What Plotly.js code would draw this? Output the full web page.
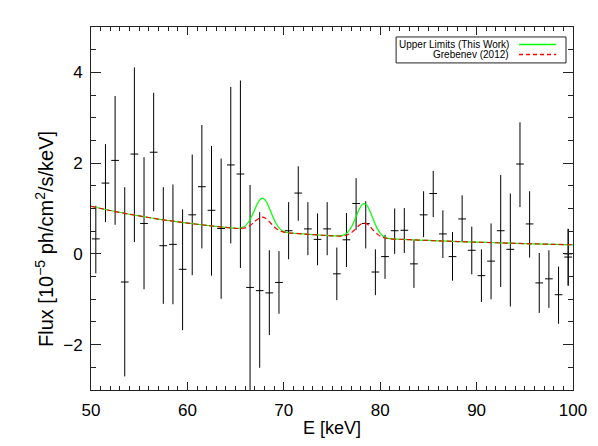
<!DOCTYPE html>
<html>
<head>
<meta charset="utf-8">
<script src="https://cdn.plot.ly/plotly-3.0.1.min.js"></script>
<style>html,body{margin:0;padding:0;background:#fff;}#chart{width:598px;height:446px;}</style>
</head>
<body>
<div id="chart"></div>
<script>
// Measured spectrum points (bin centres in keV), flux in 1e-5 ph/cm2/s/keV
const energy = [50.5,51.5,52.5,53.5,54.5,55.5,56.5,57.5,58.5,59.5,
                60.5,61.5,62.5,63.5,64.5,65.5,66.5,67.5,68.5,69.5,
                70.5,71.5,72.5,73.5,74.5,75.5,76.5,77.5,78.5,79.5,
                80.5,81.5,82.5,83.5,84.5,85.5,86.5,87.5,88.5,89.5,
                90.5,91.5,92.5,93.5,94.5,95.5,96.5,97.5,98.5,99.5,99.5];
const flux = [0.33,1.56,2.06,-0.62,2.20,0.67,2.24,0.18,0.21,-0.34,
              0.86,1.48,0.96,0.56,1.96,1.76,-0.74,-0.81,-0.86,-0.63,
              0.51,1.34,0.55,0.32,0.55,-0.44,0.31,1.11,0.67,-0.40,
              -0.06,0.51,0.52,-0.22,0.86,1.33,0.44,-0.06,0.77,0.08,
              -0.48,-0.16,0.51,0.10,1.98,0.66,-0.64,-0.55,-0.90,-0.07,0.00];
const errPlus = [0.73,0.86,1.42,2.09,1.91,1.46,1.31,1.29,1.32,1.32,
                 1.33,1.36,1.42,1.54,1.72,2.06,2.26,1.73,0.94,0.69,
                 0.63,0.59,0.59,0.57,0.59,0.58,0.59,0.56,0.49,0.50,
                 0.48,0.49,0.49,0.53,0.52,0.50,0.52,0.54,0.52,0.52,
                 0.58,0.83,1.23,1.23,0.92,0.72,0.66,0.63,0.62,0.62,0.55];
const errMinus = [0.76,0.86,1.42,2.08,1.94,1.45,1.30,1.28,1.32,1.34,
                  1.33,1.36,1.44,1.55,1.73,2.07,2.40,1.70,0.93,0.69,
                  0.63,0.61,0.58,0.57,0.58,0.58,0.60,0.58,0.55,0.51,
                  0.49,0.51,0.50,0.53,0.49,0.52,0.53,0.53,0.51,0.53,
                  0.58,0.84,1.24,1.26,0.95,0.74,0.66,0.64,0.64,0.63,0.70];
const binHalf = [0.4];

// Model curves
const modelE = [50,52,54,56,58,60,62,64,65,65.5,66,66.4,66.8,67.2,67.5,67.8,68.1,68.4,68.8,69.2,69.6,70,70.5,71,72,74,75,
                76,76.5,77,77.4,77.8,78.1,78.35,78.6,78.9,79.3,79.7,80.1,80.5,81,82,84,86,88,90,92,94,96,98,100];
const upperLimits = [1.05,0.956,0.874,0.801,0.736,0.679,0.628,0.582,0.564,0.570,0.617,0.719,0.886,1.079,1.190,1.228,1.179,1.058,0.850,0.669,0.552,0.494,0.466,0.455,0.439,0.411,0.398,
                0.402,0.450,0.586,0.772,0.973,1.080,1.109,1.074,0.961,0.750,0.556,0.430,0.367,0.337,0.322,0.304,0.287,0.272,0.258,0.245,0.232,0.221,0.210,0.200];
const grebenev = [1.05,0.956,0.874,0.801,0.736,0.679,0.628,0.582,0.562,0.559,0.573,0.610,0.676,0.752,0.795,0.808,0.784,0.731,0.640,0.560,0.508,0.480,0.463,0.454,0.439,0.411,0.398,
                0.393,0.410,0.465,0.541,0.625,0.669,0.679,0.663,0.613,0.519,0.435,0.378,0.349,0.333,0.322,0.304,0.287,0.272,0.258,0.245,0.232,0.221,0.210,0.200];

const legendLabels = ['Upper Limits (This Work)', 'Grebenev (2012)'];
const xTitle = 'E [keV]';
const yTitle = 'Flux [10<sup>\u22125</sup> ph/cm<sup>2</sup>/s/keV]';

const FONT = 'Liberation Sans, Arial, Helvetica, sans-serif';

const traces = [
  {
    x: energy, y: flux, type: 'scatter', mode: 'markers',
    marker: {size: 1, color: 'rgba(0,0,0,0)'},
    error_y: {type: 'data', symmetric: false, array: errPlus, arrayminus: errMinus,
              color: '#000', thickness: 1, width: 0},
    error_x: {type: 'constant', value: binHalf[0], color: '#000', thickness: 1, width: 0},
    showlegend: false, hoverinfo: 'skip'
  },
  {
    x: modelE, y: upperLimits, type: 'scatter', mode: 'lines', name: legendLabels[0],
    line: {color: '#00ff00', width: 1.2, shape: 'spline', smoothing: 0.8}, showlegend: false
  },
  {
    x: modelE, y: grebenev, type: 'scatter', mode: 'lines', name: legendLabels[1],
    line: {color: '#ff0000', width: 1.2, dash: '5px,3px', shape: 'spline', smoothing: 0.8}, showlegend: false
  }
];

// legend box geometry in paper coordinates
const L = {x0: 0.633, x1: 0.9855, y0: 0.901, y1: 0.9725, row1: 0.9518, row2: 0.9242,
           textX: 0.872, lineX0: 0.888, lineX1: 0.965};

const layout = {
  width: 598, height: 446,
  margin: {l: 91, r: 25, t: 27, b: 56},
  paper_bgcolor: '#fff', plot_bgcolor: '#fff',
  font: {family: FONT, color: '#000', size: 17},
  showlegend: false,
  xaxis: {
    range: [50, 100], tick0: 50, dtick: 10, ticks: 'inside', ticklen: 8, tickwidth: 1, tickcolor: '#222',
    minor: {dtick: 1, ticks: 'inside', ticklen: 4, tickcolor: '#222', showgrid: false},
    showline: true, linecolor: '#222', linewidth: 1, mirror: 'allticks',
    showgrid: false, zeroline: false, ticklabelstandoff: 5,
    tickfont: {family: FONT, size: 17, color: '#000'},
    title: {text: xTitle, font: {family: FONT, size: 18, color: '#000'}, standoff: 1}
  },
  yaxis: {
    range: [-3, 5], tick0: 0, dtick: 2, ticks: 'inside', ticklen: 10, tickwidth: 1, tickcolor: '#222',
    minor: {dtick: 0.5, ticks: 'inside', ticklen: 5, tickcolor: '#222', showgrid: false},
    showline: true, linecolor: '#222', linewidth: 1, mirror: 'allticks',
    showgrid: false, zeroline: false, ticklabelstandoff: 4,
    tickfont: {family: FONT, size: 17, color: '#000'}
  },
  shapes: [
    {type: 'rect', xref: 'paper', yref: 'paper', x0: L.x0, x1: L.x1, y0: L.y0, y1: L.y1,
     line: {color: '#222', width: 1}, fillcolor: '#fff', layer: 'above'},
    {type: 'line', xref: 'paper', yref: 'paper', x0: L.lineX0, x1: L.lineX1, y0: L.row1, y1: L.row1,
     line: {color: '#00ff00', width: 1.5}, layer: 'above'},
    {type: 'line', xref: 'paper', yref: 'paper', x0: L.lineX0, x1: L.lineX1, y0: L.row2, y1: L.row2,
     line: {color: '#ff0000', width: 1.5, dash: '4px,3px'}, layer: 'above'}
  ],
  annotations: [
    {xref: 'paper', yref: 'paper', x: L.textX, y: L.row1, xanchor: 'right', yanchor: 'middle',
     text: legendLabels[0], showarrow: false, font: {family: FONT, size: 10, color: '#000'}},
    {xref: 'paper', yref: 'paper', x: L.textX, y: L.row2, xanchor: 'right', yanchor: 'middle',
     text: legendLabels[1], showarrow: false, font: {family: FONT, size: 10, color: '#000'}},
    {xref: 'paper', yref: 'paper', x: -0.0954, y: 0.416, xanchor: 'center', yanchor: 'middle',
     textangle: -90, text: yTitle, showarrow: false, font: {family: FONT, size: 20, color: '#000'}}
  ]
};

Plotly.newPlot('chart', traces, layout, {staticPlot: true, displayModeBar: false});
</script>
</body>
</html>
